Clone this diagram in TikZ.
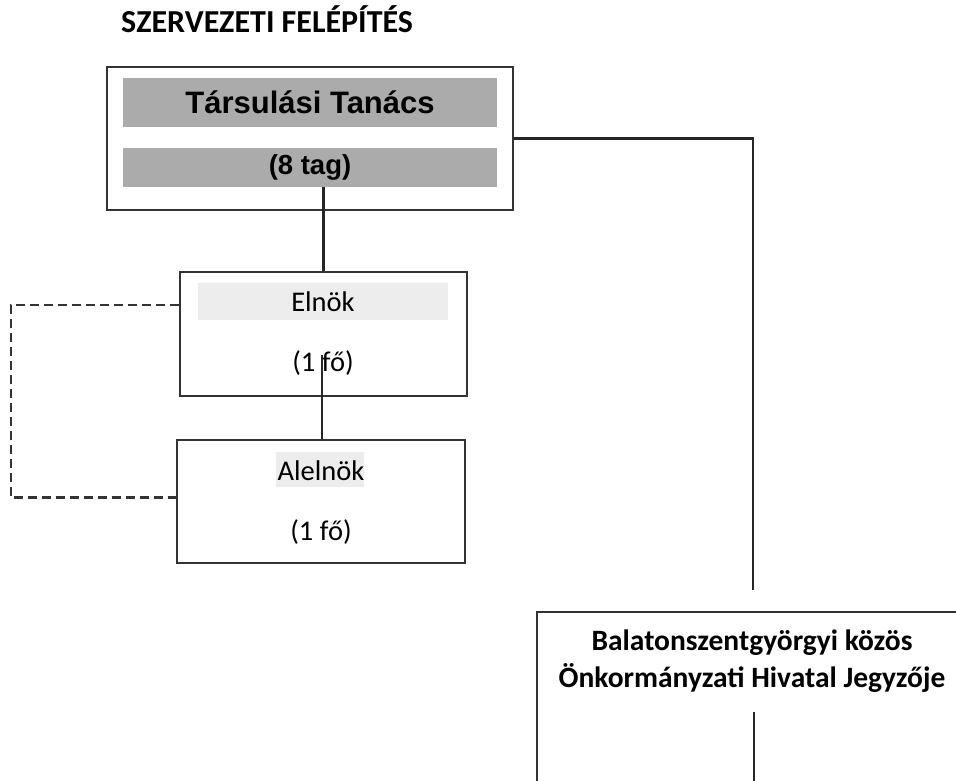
\documentclass[tikz,border=0pt]{standalone}
\usepackage{fontspec}
\setmainfont{Carlito}
\newfontfamily\arialf{Liberation Sans}
\begin{document}
\begin{tikzpicture}[x=1pt,y=-1pt,
  box/.style={draw=black!80, line width=2.2pt, fill=white, inner sep=0pt},
  band/.style={fill=black!33, inner sep=0pt},
  lightband/.style={fill=black!7, inner sep=0pt},
  txt/.style={inner sep=0pt, font=\fontsize{28.5}{34}\selectfont},
  conn/.style={draw=black!85, line width=2.2pt},
  dashconn/.style={draw=black!80, line width=2.2pt, dash pattern=on 9pt off 5pt}]
\useasboundingbox (0,0) rectangle (956,781);
\clip (0,0) rectangle (956,781);
\fill[white] (0,0) rectangle (956,781);

\node[anchor=base west, inner sep=0pt, font=\fontsize{32}{38}\selectfont\bfseries] (title) at (121,33) {SZERVEZETI FELÉPÍTÉS};

% Tarsulasi Tanacs
\node[box, minimum width=406pt, minimum height=143pt] (tars) at (310,138.5) {};
\node[band, minimum width=374pt, minimum height=49pt, font=\arialf\bfseries\fontsize{31}{36}\selectfont] (tt) at (310,102.5) {Társulási Tanács};
\node[band, minimum width=374pt, minimum height=39pt, font=\arialf\bfseries\fontsize{27.5}{32}\selectfont] (tag) at (310,167.5) {(8 tag)};

% Elnok
\node[box, minimum width=287pt, minimum height=124pt] (elnok) at (323.5,334) {};
\node[lightband, minimum width=250pt, minimum height=37pt] (elband) at (323,301.5) {};
\node[txt] (elt) at (323,302) {Elnök};
\node[txt] (elf) at (323,363) {(1 fő)};

% Alelnok
\node[box, minimum width=288pt, minimum height=123pt] (alelnok) at (321,501.5) {};
\node[lightband, minimum width=88pt, minimum height=35pt] (alband) at (320,469.5) {};
\node[txt] (alt) at (321,471) {Alelnök};
\node[txt] (alf) at (321,532) {(1 fő)};

% Jegyzo
\node[box, minimum width=433pt, minimum height=188pt] (jegy) at (753.5,706) {};
\node[inner sep=0pt, align=center, font=\bfseries\fontsize{29.5}{37}\selectfont] (jt) at (752,661) {Balatonszentgyörgyi közös\\Önkormányzati Hivatal Jegyzője};

% connectors
\coordinate (e1) at (322,355);
\coordinate (c1) at (753,590);
\coordinate (j1) at (754,712);
\coordinate (j2) at (754,800);
\draw[conn] (elnok.north |- tag.south) -- (elnok.north);
\draw[conn] (e1) -- (e1 |- alelnok.north);
\draw[conn] (tars.east) -| (c1);
\draw[conn] (j1) -- (j2);
\draw[dashconn] ([yshift=29pt]elnok.west) -- ++(-168,0) |- ([yshift=4pt]alelnok.west);
\end{tikzpicture}
\end{document}
